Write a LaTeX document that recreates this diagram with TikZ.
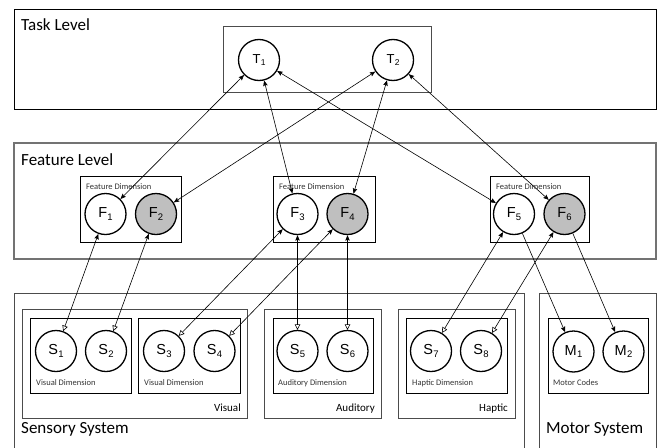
\documentclass[tikz,border=0pt]{standalone}
\usepackage{fontspec}
\setmainfont{Carlito}
\newfontfamily\arialfont{Liberation Sans}
\usetikzlibrary{arrows.meta}
\newcommand{\cl}[2]{{\arialfont\fontsize{14.5}{14.5}\selectfont #1\kern0.3pt\raisebox{-2.2pt}{\fontsize{9.5}{9.5}\selectfont #2}}}
\newcommand{\tlb}[2]{{\arialfont\fontsize{13}{13}\selectfont #1\kern0.3pt\raisebox{-2pt}{\fontsize{8.5}{8.5}\selectfont #2}}}
\tikzset{
  circ/.style={circle, draw, line width=1.3pt, minimum size=41pt, inner sep=0pt, fill=white},
  gcirc/.style={circ, fill=gray!50},
  outerbox/.style={draw=black!70, line width=1pt},
  innerbox/.style={draw=black, line width=0.8pt},
  conn/.style={line width=0.6pt},
  bigtxt/.style={inner sep=0pt, anchor=base west, font=\fontsize{17}{17}\selectfont},
  midtxt/.style={inner sep=0pt, anchor=base east, font=\fontsize{11}{11}\selectfont},
  smalltxt/.style={inner sep=0pt, anchor=west, font=\fontsize{8.5}{8.5}\selectfont, text=black!80},
  fa/.tip={Stealth[length=5.5pt,width=4.5pt,inset=1pt]},
  oa/.tip={Triangle[open,length=5.5pt,width=5.5pt]}
}
\begin{document}
\begin{tikzpicture}[x=1pt,y=-1pt]
\useasboundingbox (0,0) rectangle (660,447);
\clip (0,0) rectangle (660,447);
% Task level
\draw[draw=black, line width=1pt] (14,9) rectangle (656,109);
\draw[outerbox] (223,26) rectangle (431,92);
\node[bigtxt] (tasklbl) at (21,30) {Task Level};
% Feature level
\draw[draw=black!55, line width=1.3pt] (14,143) rectangle (656,259);
\node[bigtxt] (featlbl) at (21,165) {Feature Level};
\draw[innerbox] (80,176) rectangle (181,242);
\draw[innerbox] (273,176) rectangle (375,242);
\draw[innerbox] (490,176) rectangle (589,242);
\node[smalltxt] (fd1) at (86,187) {Feature Dimension};
\node[smalltxt] (fd2) at (279,187) {Feature Dimension};
\node[smalltxt] (fd3) at (496,187) {Feature Dimension};
% Sensory system
\draw[outerbox] (14,293) rectangle (524,460);
\node[bigtxt] (senslbl) at (21,433) {Sensory System};
\draw[outerbox] (22,309) rectangle (247,418);
\draw[outerbox] (264,309) rectangle (381,418);
\draw[outerbox] (398,309) rectangle (515,418);
\node[midtxt] (vislbl) at (241,411) {Visual};
\node[midtxt] (audlbl) at (375,411) {Auditory};
\node[midtxt] (haplbl) at (508,411) {Haptic};
\draw[innerbox] (30,318) rectangle (131,393);
\draw[innerbox] (138,318) rectangle (240,393);
\draw[innerbox] (273,318) rectangle (373,393);
\draw[innerbox] (406,318) rectangle (507,393);
\node[smalltxt] (vd1) at (36,383) {Visual Dimension};
\node[smalltxt] (vd2) at (144,383) {Visual Dimension};
\node[smalltxt] (ad1) at (278,383) {Auditory Dimension};
\node[smalltxt] (hd1) at (412,383) {Haptic Dimension};
% Motor system
\draw[outerbox] (539,293) rectangle (656,460);
\node[bigtxt] (motlbl) at (546,433) {Motor System};
\draw[innerbox] (548,318) rectangle (648,393);
\node[smalltxt] (mc) at (553,383) {Motor Codes};
% circles
\node[circ] (T1) at (259,60) {\tlb{T}{1}};
\node[circ] (T2) at (393,60) {\tlb{T}{2}};
\node[circ] (F1) at (105.5,214) {\cl{F}{1}};
\node[gcirc] (F2) at (156,214) {\cl{F}{2}};
\node[circ] (F3) at (297.5,214) {\cl{F}{3}};
\node[gcirc] (F4) at (347.5,214) {\cl{F}{4}};
\node[circ] (F5) at (514,214) {\cl{F}{5}};
\node[gcirc] (F6) at (564.5,214) {\cl{F}{6}};
\node[circ] (S1) at (56,351) {\cl{S}{1}};
\node[circ] (S2) at (106,351) {\cl{S}{2}};
\node[circ] (S3) at (164,351) {\cl{S}{3}};
\node[circ] (S4) at (214.5,351) {\cl{S}{4}};
\node[circ] (S5) at (297.5,351) {\cl{S}{5}};
\node[circ] (S6) at (347.5,351) {\cl{S}{6}};
\node[circ] (S7) at (431,351) {\cl{S}{7}};
\node[circ] (S8) at (481,351) {\cl{S}{8}};
\node[circ] (M1) at (573.5,351.5) {\cl{M}{1}};
\node[circ] (M2) at (623.5,351.5) {\cl{M}{2}};
% task-feature connectors
\draw[conn, fa-fa] (T1) -- (F1);
\draw[conn, fa-fa] (T1) -- (F3);
\draw[conn, fa-fa] (T1) -- (F5);
\draw[conn, fa-fa] (T2) -- (F2);
\draw[conn, fa-fa] (T2) -- (F4);
\draw[conn, fa-fa] (T2) -- (F6);
% feature-sensory connectors
\draw[conn, fa-oa] (F1) -- (S1);
\draw[conn, fa-oa] (F2) -- (S2);
\draw[conn, fa-oa] (F3) -- (S3);
\draw[conn, fa-oa] (F4) -- (S4);
\draw[conn, fa-oa] (F3) -- (S5);
\draw[conn, fa-oa] (F4) -- (S6);
\draw[conn, fa-oa] (F5) -- (S7);
\draw[conn, fa-oa] (F6) -- (S8);
% feature-motor connectors
\draw[conn, -fa] (F5) -- (M1);
\draw[conn, -fa] (F6) -- (M2);
\end{tikzpicture}
\end{document}
